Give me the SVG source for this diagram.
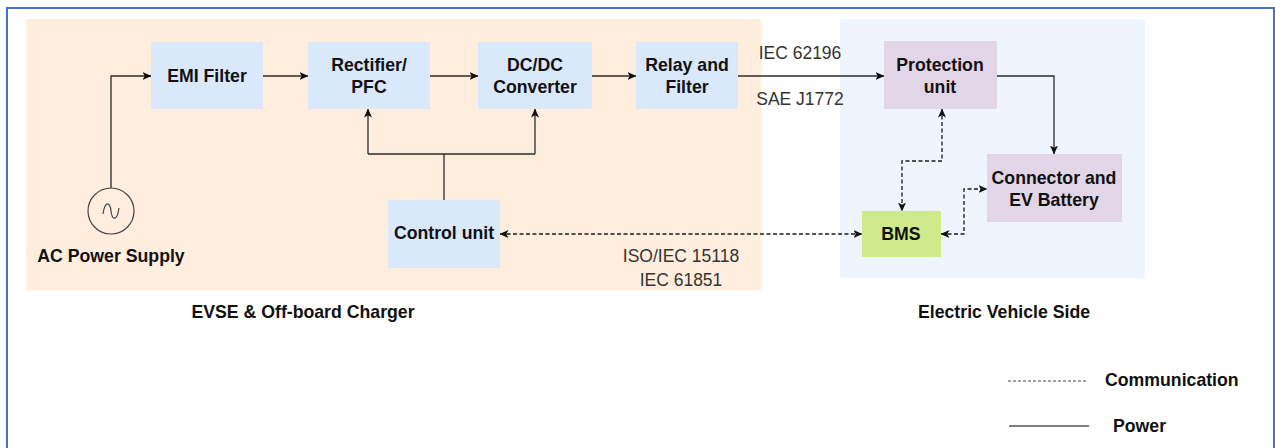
<svg xmlns="http://www.w3.org/2000/svg" width="1275" height="448" viewBox="0 0 1275 448">
  <style>
    .node-blue { fill: #DAE8FC; }
    .node-purple { fill: #E1D5E7; }
    .node-green { fill: #CDEB8B; }
    .title { font-family: "Liberation Sans", Arial, sans-serif; font-weight: bold; font-size: 17.7px; fill: #111; text-anchor: middle; }
    .label { font-family: "Liberation Sans", Arial, sans-serif; font-size: 17.5px; fill: #333; text-anchor: middle; }
    .power { fill: none; stroke: #2a2a2a; stroke-width: 1.3; }
    .comm { fill: none; stroke: #1a1a1a; stroke-width: 1.3; stroke-dasharray: 4 2.5; }
  </style>
  <defs>
    <marker id="arrow" viewBox="0 0 9 8" refX="8.5" refY="4" markerWidth="9" markerHeight="8" markerUnits="userSpaceOnUse" orient="auto-start-reverse">
      <path d="M0,0 L9,4 L0,8 L2.2,4 z" fill="#111"/>
    </marker>
  </defs>

  <rect width="1275" height="448" fill="#fff"/>
  <!-- frame -->
  <rect x="7" y="8" width="1267" height="460" fill="none" stroke="#4472C4" stroke-width="2"/>

  <!-- regions -->
  <rect id="evse-region" x="26" y="19" width="735" height="271" fill="#FFEEDD"/>
  <rect id="ev-region" x="840" y="19" width="305" height="259" fill="#EEF5FF"/>

  <!-- connectors -->
  <g id="connectors">
    <!-- power -->
    <polyline class="power" points="111,188 111,76 151,76" marker-end="url(#arrow)"/>
    <line class="power" x1="263" y1="76" x2="308" y2="76" marker-end="url(#arrow)"/>
    <line class="power" x1="430" y1="76" x2="478" y2="76" marker-end="url(#arrow)"/>
    <line class="power" x1="592" y1="76" x2="636" y2="76" marker-end="url(#arrow)"/>
    <line class="power" x1="738" y1="76" x2="884" y2="76" marker-end="url(#arrow)"/>
    <polyline class="power" points="997,76 1054,76 1054,154" marker-end="url(#arrow)"/>
    <polyline class="power" points="444,200 444,154"/>
    <polyline class="power" points="368,154 535,154"/>
    <line class="power" x1="368" y1="154" x2="368" y2="109" marker-end="url(#arrow)"/>
    <line class="power" x1="535" y1="154" x2="535" y2="109" marker-end="url(#arrow)"/>
    <!-- communication -->
    <line class="comm" x1="500" y1="234" x2="862" y2="234" marker-start="url(#arrow)" marker-end="url(#arrow)"/>
    <polyline class="comm" points="942,109 942,161 902,161 902,211" marker-start="url(#arrow)" marker-end="url(#arrow)"/>
    <polyline class="comm" points="941,234 964,234 964,189 987,189" marker-start="url(#arrow)" marker-end="url(#arrow)"/>
  </g>

  <!-- connector labels -->
  <text class="label" x="800" y="59">IEC 62196</text>
  <text class="label" x="800" y="105">SAE J1772</text>
  <text class="label" x="681" y="262">ISO/IEC 15118</text>
  <text class="label" x="681" y="286">IEC 61851</text>

  <!-- AC source -->
  <g id="ac-supply">
    <circle cx="111" cy="211" r="23" fill="none" stroke="#444" stroke-width="1.2"/>
    <path d="M103,214 C105,200 110,202 111,211 C112,220 117,222 119,208" fill="none" stroke="#444" stroke-width="1.2"/>
    <text class="title" x="111" y="262">AC Power Supply</text>
  </g>

  <g id="emi-filter">
    <rect class="node-blue" x="151" y="42" width="112" height="67"/>
    <text class="title" x="207" y="82">EMI Filter</text>
  </g>
  <g id="rectifier-pfc">
    <rect class="node-blue" x="308" y="42" width="122" height="67"/>
    <text class="title" x="369" y="71">Rectifier/</text>
    <text class="title" x="369" y="93">PFC</text>
  </g>
  <g id="dcdc-converter">
    <rect class="node-blue" x="478" y="42" width="114" height="67"/>
    <text class="title" x="535" y="71">DC/DC</text>
    <text class="title" x="535" y="93">Converter</text>
  </g>
  <g id="relay-filter">
    <rect class="node-blue" x="636" y="42" width="102" height="67"/>
    <text class="title" x="687" y="71">Relay and</text>
    <text class="title" x="687" y="93">Filter</text>
  </g>
  <g id="control-unit">
    <rect class="node-blue" x="388" y="200" width="112" height="68"/>
    <text class="title" x="444" y="239">Control unit</text>
  </g>
  <g id="protection-unit">
    <rect class="node-purple" x="884" y="41" width="113" height="68"/>
    <text class="title" x="940" y="71">Protection</text>
    <text class="title" x="940" y="93">unit</text>
  </g>
  <g id="connector-battery">
    <rect class="node-purple" x="987" y="154" width="135" height="68"/>
    <text class="title" x="1054" y="184">Connector and</text>
    <text class="title" x="1054" y="206">EV Battery</text>
  </g>
  <g id="bms">
    <rect class="node-green" x="862" y="211" width="79" height="46"/>
    <text class="title" x="901" y="240">BMS</text>
  </g>

  <!-- region captions -->
  <text class="title" x="303" y="318">EVSE &amp; Off-board Charger</text>
  <text class="title" x="1004" y="318">Electric Vehicle Side</text>

  <!-- legend -->
  <g id="legend">
    <line x1="1008" y1="381" x2="1087" y2="381" stroke="#444" stroke-width="1" stroke-dasharray="3 2"/>
    <text class="title" x="1105" y="386" style="text-anchor:start">Communication</text>
    <line x1="1009" y1="426" x2="1089" y2="426" stroke="#555" stroke-width="1.5"/>
    <text class="title" x="1113" y="432" style="text-anchor:start">Power</text>
  </g>
</svg>
